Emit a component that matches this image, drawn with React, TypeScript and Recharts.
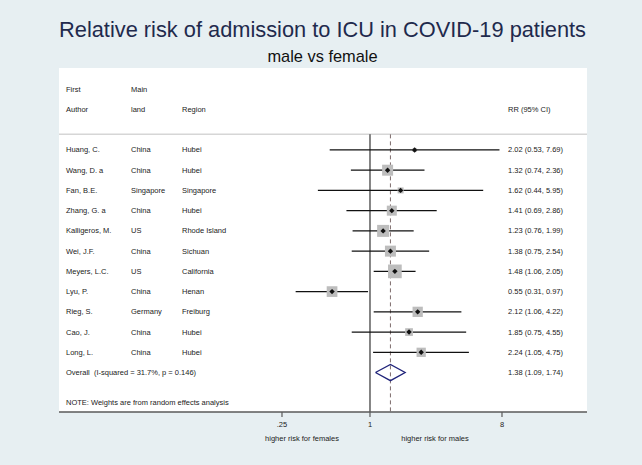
import {
  CartesianGrid,
  ReferenceLine,
  Scatter,
  ScatterChart,
  XAxis,
  YAxis,
} from "recharts";

// study table
const authors = ["Huang, C.", "Wang, D. a", "Fan, B.E.", "Zhang, G. a", "Kalligeros, M.", "Wei, J.F.", "Meyers, L.C.", "Lyu, P.", "Rieg, S.", "Cao, J.", "Long, L."];
const mainland = ["China", "China", "Singapore", "China", "US", "China", "US", "China", "Germany", "China", "China"];
const regions = ["Hubei", "Hubei", "Singapore", "Hubei", "Rhode Island", "Sichuan", "California", "Henan", "Freiburg", "Hubei", "Hubei"];
const rr = [2.02, 1.32, 1.62, 1.41, 1.23, 1.38, 1.48, 0.55, 2.12, 1.85, 2.24];
const ciLow = [0.53, 0.74, 0.44, 0.69, 0.76, 0.75, 1.06, 0.31, 1.06, 0.75, 1.05];
const ciHigh = [7.69, 2.36, 5.95, 2.86, 1.99, 2.54, 2.05, 0.97, 4.22, 4.55, 4.75];
const weights = [1.5, 11.1, 3.3, 9.2, 13.2, 11.1, 17.2, 10.5, 9.7, 5.5, 7.9]; // % (random effects)

const overallRR = 1.38;
const overallLow = 1.09;
const overallHigh = 1.74;
const overallLabel = "Overall  (I-squared = 31.7%, p = 0.146)";
const noteText = "NOTE: Weights are from random effects analysis";

const xTicks = [0.25, 1, 8];

const FONT = "'Liberation Sans', Arial, Helvetica, sans-serif";
const COLS = [66, 131, 182, 508];
const fmt = (v: number) => v.toFixed(2);
const ciText = (r: number, lo: number, hi: number) => `${fmt(r)} (${fmt(lo)}, ${fmt(hi)})`;

const studies = authors.map((a, i) => ({
  x: rr[i],
  y: i,
  lo: ciLow[i],
  hi: ciHigh[i],
  weight: weights[i],
}));

const overallRow = authors.length;
const sepY = -0.77;

const tableRows = [
  { x: 1, y: -3, cells: ["First", "Main", "", ""] },
  { x: 1, y: -2, cells: ["Author", "land", "Region", "RR (95% CI)"] },
  ...authors.map((a, i) => ({
    x: 1,
    y: i,
    cells: [a, mainland[i], regions[i], ciText(rr[i], ciLow[i], ciHigh[i])],
  })),
  { x: 1, y: overallRow, cells: [overallLabel, "", "", ciText(overallRR, overallLow, overallHigh)] },
  { x: 1, y: overallRow + 1.5, cells: [noteText, "", "", ""] },
];

const diamond = [
  { x: overallLow, y: overallRow },
  { x: overallRR, y: overallRow - 0.4 },
  { x: overallHigh, y: overallRow },
  { x: overallRR, y: overallRow + 0.4 },
  { x: overallLow, y: overallRow },
];

const TextRow = (props: any) => {
  const { cy, payload } = props;
  return (
    <g>
      {payload.cells.map((t: string, k: number) =>
        t ? (
          <text
            key={k}
            x={COLS[k]}
            y={cy}
            dominantBaseline="central"
            fontSize={7.5}
            fill="#222"
            fontFamily={FONT}
            style={{ whiteSpace: "pre" }}
          >
            {t}
          </text>
        ) : null
      )}
    </g>
  );
};

const WeightBox = (props: any) => {
  const { cx, cy, payload } = props;
  const s = 3.3 * Math.sqrt(payload.weight);
  return <rect x={cx - s / 2} y={cy - s / 2} width={s} height={s} fill="#bdbdbd" />;
};

const PointMark = (props: any) => {
  const { cx, cy } = props;
  const r = 2.7;
  return <polygon points={`${cx - r},${cy} ${cx},${cy - r} ${cx + r},${cy} ${cx},${cy + r}`} fill="#111" />;
};

export default function App() {
  return (
    <div
      style={{
        position: "absolute",
        left: 0,
        top: 0,
        width: 642,
        height: 465,
        background: "#e7eff2",
        fontFamily: FONT,
      }}
    >
      <ScatterChart width={642} height={465} margin={{ top: 68, right: 55, bottom: 23, left: 59 }}>
        <CartesianGrid horizontal={false} vertical={false} fill="#ffffff" fillOpacity={1} />
        <XAxis
          dataKey="x"
          type="number"
          scale="log"
          domain={[Math.pow(2, -7.068), Math.pow(2, 4.932)]}
          allowDataOverflow
          ticks={xTicks}
          tickFormatter={(v: number) => (v < 1 ? String(v).replace(/^0/, "") : String(v))}
          height={30}
          tickSize={5}
          tickMargin={5}
          axisLine={{ stroke: "#5a5a5a", strokeWidth: 1.6 }}
          tickLine={{ stroke: "#5a5a5a", strokeWidth: 1.2 }}
          tick={{ fontSize: 7.5, fill: "#222", fontFamily: FONT }}
        />
        <YAxis dataKey="y" type="number" domain={[-4.05, 12.95]} reversed hide allowDataOverflow width={0} />

        <ReferenceLine y={sepY} stroke="#d6d6d6" strokeWidth={1.5} />
        <ReferenceLine
          segment={[{ x: 1, y: sepY }, { x: 1, y: 12.95 }]}
          stroke="#333"
          strokeWidth={1.2}
        />
        <ReferenceLine
          segment={[{ x: overallRR, y: sepY }, { x: overallRR, y: 12.95 }]}
          stroke="#7d6b6b"
          strokeWidth={1}
          strokeDasharray="4 3"
        />

        <Scatter data={studies} shape={WeightBox} isAnimationActive={false} />
        {studies.map((s, i) => (
          <ReferenceLine
            key={i}
            segment={[{ x: s.lo, y: s.y }, { x: s.hi, y: s.y }]}
            stroke="#111"
            strokeWidth={1.3}
          />
        ))}
        <Scatter data={studies} shape={PointMark} isAnimationActive={false} />
        <Scatter
          data={diamond}
          line={{ stroke: "#1f237a", strokeWidth: 1.3 }}
          lineType="joint"
          shape={() => <g />}
          isAnimationActive={false}
        />
        <Scatter data={tableRows} shape={TextRow} isAnimationActive={false} />

        <text x={322.5} y={37.3} textAnchor="middle" fontSize={21.8} fill="#1f2a4d" fontFamily={FONT}>
          Relative risk of admission to ICU in COVID-19 patients
        </text>
        <text x={322.5} y={62} textAnchor="middle" fontSize={16.4} fill="#111" fontFamily={FONT}>
          male vs female
        </text>
        <text x={302} y={441.3} textAnchor="middle" fontSize={7.5} fill="#222" fontFamily={FONT}>
          higher risk for females
        </text>
        <text x={435} y={441.3} textAnchor="middle" fontSize={7.5} fill="#222" fontFamily={FONT}>
          higher risk for males
        </text>
      </ScatterChart>
    </div>
  );
}
